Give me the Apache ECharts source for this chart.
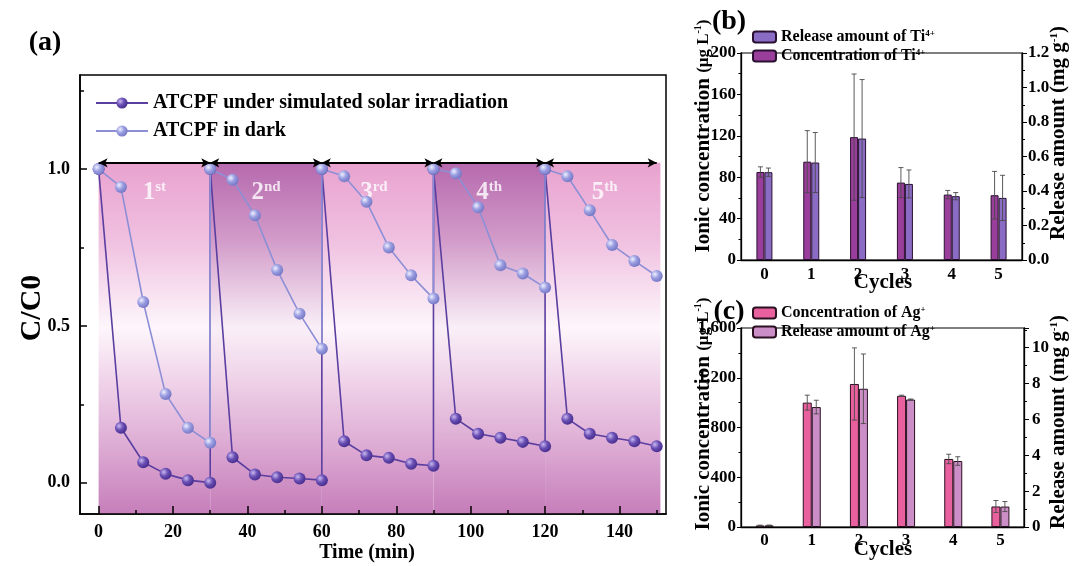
<!DOCTYPE html>
<html><head><meta charset="utf-8">
<script src="https://cdn.jsdelivr.net/npm/echarts@6/dist/echarts.min.js"></script>
<style>html,body{margin:0;padding:0;background:#fff}#c{width:1072px;height:566px}</style>
</head><body><div id="c"></div>
<script>
const FONT = "'Times New Roman','Liberation Serif',serif";
// ---------- Panel (a) data ----------
const timeMin = [0,6,12,18,24,30, 30,36,42,48,54,60, 60,66,72,78,84,90, 90,96,102,108,114,120, 120,126,132,138,144,150];
const solarCC0 = [1.0,0.175,0.065,0.028,0.008,0.0, 1.0,0.081,0.026,0.017,0.013,0.008, 1.0,0.132,0.087,0.079,0.060,0.054, 1.0,0.204,0.156,0.143,0.130,0.116, 1.0,0.204,0.156,0.143,0.132,0.116];
const darkCC0 = [1.0,0.943,0.576,0.283,0.175,0.127, 1.0,0.966,0.853,0.678,0.539,0.427, 1.0,0.977,0.896,0.750,0.661,0.587, 1.0,0.987,0.878,0.693,0.667,0.622, 1.0,0.977,0.869,0.758,0.707,0.659];
const cycleBounds = [0,30,60,90,120,151];
const arrowBounds = [0,30,60,90,120,150];
const cycleLabelX = [15,45,74,105,136];
const cycleNum = ['1','2','3','4','5'];
const cycleSup = ['st','nd','rd','th','th'];
const xMajorA = [0,20,40,60,80,100,120,140];
const xMinorA = [10,30,50,70,90,110,130,150];
const yMajorA = [0,0.5,1.0];
const yMinorA = [0.25,0.75,1.25];
// ---------- Panel (b) data ----------
const cycles = ['0','1','2','3','4','5'];
const tiConc = [85,95,118.7,74.8,63.2,62.6];
const tiConcErr = [5,30,61,14.5,4,23];
const tiRelease = [0.509,0.565,0.704,0.441,0.370,0.360];
const tiReleaseErr = [0.024,0.174,0.342,0.081,0.021,0.131];
// ---------- Panel (c) data ----------
const agConc = [12,1000,1150,1055,547,165];
const agConcErr = [3,60,290,5,38,48];
const agRelease = [0.09,6.69,7.71,7.11,3.68,1.14];
const agReleaseErr = [0.02,0.38,1.94,0.03,0.24,0.28];

const NAME_SOLAR = 'ATCPF under simulated solar irradiation';
const NAME_DARK = 'ATCPF in dark';

function grad(stops){return {type:'linear',x:0,y:0,x2:0,y2:1,colorStops:stops.map(s=>({offset:s[0],color:s[1]}))};}
const gradLight = grad([[0,'#e8a2cf'],[0.22,'#f0c0e0'],[0.47,'#fdf6fb'],[0.6,'#f2d8ec'],[0.8,'#deadd5'],[1,'#c67eba']]);
const gradDark = grad([[0,'#b66aae'],[0.22,'#d29bc9'],[0.47,'#f9eff7'],[0.6,'#f0d6ea'],[0.8,'#dcaad3'],[1,'#c47cb8']]);

function sphere(c0,c1,c2){return {type:'radial',x:0.35,y:0.35,r:0.75,colorStops:[{offset:0,color:c0},{offset:0.45,color:c1},{offset:1,color:c2}]};}

const areas = [];
for(let i=0;i<5;i++){
  areas.push([{xAxis:cycleBounds[i],yAxis:-0.1,itemStyle:{color:i%2?gradDark:gradLight,opacity:1}},{xAxis:cycleBounds[i+1],yAxis:1.02}]);
}
const arrows = [];
for(let i=0;i<5;i++){arrows.push([{coord:[arrowBounds[i],1.02]},{coord:[arrowBounds[i+1],1.02]}]);}

function errorBars(name, xi, yi, vals, errs, side, barW){
  return {type:'custom', name, xAxisIndex:xi, yAxisIndex:yi, z:5, silent:true,
    data: vals.map((v,i)=>[i, v-errs[i], v+errs[i]]),
    encode:{x:0,y:[1,2]},
    renderItem:(params, api)=>{
      const lo = api.coord([api.value(0), api.value(1)]);
      const hi = api.coord([api.value(0), api.value(2)]);
      const x = lo[0] + side*barW/2;
      const cap = 2.5;
      const st = {stroke:'#4a4a4a', lineWidth:0.9};
      return {type:'group', children:[
        {type:'line', shape:{x1:x,y1:lo[1],x2:x,y2:hi[1]}, style:st},
        {type:'line', shape:{x1:x-cap,y1:hi[1],x2:x+cap,y2:hi[1]}, style:st},
        {type:'line', shape:{x1:x-cap,y1:lo[1],x2:x+cap,y2:lo[1]}, style:st}]};
    }};
}

const tickLbl = {fontFamily:FONT,fontWeight:'bold',fontSize:17,color:'#000'};
const axLine = {show:true,onZero:false,lineStyle:{color:'#000',width:1.3}};
const axLineA = {show:true,onZero:false,lineStyle:{color:'#000',width:1.6}};

const option = {
  animation:false,
  textStyle:{fontFamily:FONT},
  grid:[
    {left:80,top:75,width:586,height:439,show:true,borderColor:'#000',borderWidth:1.5,backgroundColor:'transparent'},
    {left:741,top:53,width:281,height:207,show:true,borderColor:'#000',borderWidth:1.2,backgroundColor:'transparent'},
    {left:741,top:328,width:283,height:199,show:true,borderColor:'#000',borderWidth:1.2,backgroundColor:'transparent'}
  ],
  xAxis:[
    {type:'value',gridIndex:0,z:10,min:-5,max:152.5,axisLine:axLineA,splitLine:{show:false},
      axisTick:{show:true,inside:true,length:8,customValues:xMajorA,lineStyle:{color:'#000',width:1.5}},
      axisLabel:{...tickLbl,fontSize:18,margin:9,customValues:xMajorA}},
    {type:'value',gridIndex:0,z:10,min:-5,max:152.5,position:'bottom',axisLine:{show:false,onZero:false},splitLine:{show:false},
      axisTick:{show:true,inside:true,length:4,customValues:xMinorA,lineStyle:{color:'#000',width:1.5}},
      axisLabel:{show:false}},
    {type:'category',gridIndex:1,data:cycles,axisLine:axLine,axisTick:{show:false},axisLabel:{...tickLbl,margin:6}},
    {type:'category',gridIndex:2,data:cycles,axisLine:axLine,axisTick:{show:false},axisLabel:{...tickLbl,margin:5}}
  ],
  yAxis:[
    {type:'value',gridIndex:0,z:10,min:-0.1,max:1.3,axisLine:axLineA,splitLine:{show:false},
      axisTick:{show:true,inside:true,length:7,customValues:yMajorA,lineStyle:{color:'#000',width:1.5}},
      axisLabel:{...tickLbl,fontSize:18,margin:10,customValues:yMajorA,formatter:v=>v.toFixed(1)}},
    {type:'value',gridIndex:0,z:10,min:-0.1,max:1.3,position:'left',axisLine:{show:false,onZero:false},splitLine:{show:false},
      axisTick:{show:true,inside:true,length:4,customValues:yMinorA,lineStyle:{color:'#000',width:1.5}},
      axisLabel:{show:false}},
    {type:'value',gridIndex:1,min:0,max:200,interval:40,position:'left',axisLine:axLine,splitLine:{show:false},
      axisTick:{show:true,length:4,lineStyle:{color:'#000'}},minorTick:{show:true,splitNumber:2,length:2.5,lineStyle:{color:'#000'}},
      axisLabel:{...tickLbl,margin:5}},
    {type:'value',gridIndex:1,min:0,max:1.2,interval:0.2,position:'right',axisLine:axLine,splitLine:{show:false},
      axisTick:{show:true,length:5,lineStyle:{color:'#000'}},minorTick:{show:true,splitNumber:2,length:3,lineStyle:{color:'#000'}},
      axisLabel:{...tickLbl,margin:6,formatter:v=>v.toFixed(1)}},
    {type:'value',gridIndex:2,min:0,max:1600,interval:400,position:'left',axisLine:axLine,splitLine:{show:false},
      axisTick:{show:true,length:4,lineStyle:{color:'#000'}},minorTick:{show:true,splitNumber:2,length:2.5,lineStyle:{color:'#000'}},
      axisLabel:{...tickLbl,margin:5}},
    {type:'value',gridIndex:2,min:0,max:11.1,interval:2,position:'right',axisLine:axLine,splitLine:{show:false},
      axisTick:{show:true,length:5,lineStyle:{color:'#000'}},minorTick:{show:true,splitNumber:2,length:3,lineStyle:{color:'#000'}},
      axisLabel:{...tickLbl,margin:8,showMaxLabel:false}}
  ],
  legend:[
    {data:[NAME_SOLAR,NAME_DARK],orient:'vertical',left:90,top:88,itemWidth:52,itemHeight:14,itemGap:8,
      textStyle:{fontFamily:FONT,fontWeight:'bold',fontSize:20,color:'#000'},selectedMode:false},
    {data:['Release amount of Ti4+','Concentration of Ti4+'],orient:'vertical',left:747,top:24,itemWidth:23,itemHeight:11,itemGap:3,
      selectedMode:false,
      formatter:n=>'{m|'+n.replace('4+','')+'}{s|4+}',
      textStyle:{rich:{m:{fontFamily:FONT,fontWeight:'bold',fontSize:16,color:'#000'},s:{fontFamily:FONT,fontWeight:'bold',fontSize:9,color:'#000',verticalAlign:'top'}}}},
    {data:['Concentration of Ag+','Release amount of Ag+'],orient:'vertical',left:747,top:300,itemWidth:23,itemHeight:11,itemGap:3,
      selectedMode:false,
      formatter:n=>'{m|'+n.replace('+','')+'}{s|+}',
      textStyle:{rich:{m:{fontFamily:FONT,fontWeight:'bold',fontSize:16,color:'#000'},s:{fontFamily:FONT,fontWeight:'bold',fontSize:9,color:'#000',verticalAlign:'top'}}}}
  ],
  series:[
    {type:'line',name:'bg',xAxisIndex:0,yAxisIndex:0,data:[],z:1,silent:true,markArea:{silent:true,data:areas}},
    {type:'line',name:'arrows',xAxisIndex:0,yAxisIndex:0,data:[],z:2,silent:true,
      markLine:{silent:true,symbol:['arrow','arrow'],symbolSize:[7,9],label:{show:false},lineStyle:{color:'#000',width:2,type:'solid'},data:arrows}},
    {type:'scatter',name:'cyc',xAxisIndex:0,yAxisIndex:0,z:3,silent:true,symbolSize:0,
      data:cycleLabelX.map((x,i)=>[x,0.925]),
      label:{show:true,position:'inside',formatter:p=>'{n|'+cycleNum[p.dataIndex]+'}{s|'+cycleSup[p.dataIndex]+'}',
        rich:{n:{fontFamily:FONT,fontWeight:'bold',fontSize:25,color:'#fff',lineHeight:26},s:{fontFamily:FONT,fontWeight:'bold',fontSize:15,color:'#fff',verticalAlign:'top'}}}},
    {type:'line',name:NAME_SOLAR,xAxisIndex:0,yAxisIndex:0,z:4,data:timeMin.map((t,i)=>[t,solarCC0[i]]),
      symbol:'circle',symbolSize:12,lineStyle:{color:'#5a3ea0',width:1.6},
      itemStyle:{color:sphere('#c9b8f0','#6a4fb4','#3f2686')}},
    {type:'line',name:NAME_DARK,xAxisIndex:0,yAxisIndex:0,z:4,data:timeMin.map((t,i)=>[t,darkCC0[i]]),
      symbol:'circle',symbolSize:12,lineStyle:{color:'#8d8fd6',width:1.6},
      itemStyle:{color:sphere('#eef0ff','#9a9de0','#6e70c0')}},
    // (b)
    {type:'bar',name:'Concentration of Ti4+',xAxisIndex:2,yAxisIndex:2,data:tiConc,barWidth:8,barGap:'0%',
      itemStyle:{color:'#9a3e9c',borderColor:'#2a1030',borderWidth:1}},
    {type:'bar',name:'Release amount of Ti4+',xAxisIndex:2,yAxisIndex:3,data:tiRelease,barWidth:8,barGap:'0%',
      itemStyle:{color:'#8a6cc4',borderColor:'#2a1030',borderWidth:1}},
    errorBars('e1',2,2,tiConc,tiConcErr,-1,8),
    errorBars('e2',2,3,tiRelease,tiReleaseErr,1,8),
    // (c)
    {type:'bar',name:'Concentration of Ag+',xAxisIndex:3,yAxisIndex:4,data:agConc,barWidth:9,barGap:'0%',
      itemStyle:{color:'#e8609e',borderColor:'#2a1020',borderWidth:1}},
    {type:'bar',name:'Release amount of Ag+',xAxisIndex:3,yAxisIndex:5,data:agRelease,barWidth:9,barGap:'0%',
      itemStyle:{color:'#cc8ec6',borderColor:'#2a1020',borderWidth:1}},
    errorBars('e3',3,4,agConc,agConcErr,-1,9),
    errorBars('e4',3,5,agRelease,agReleaseErr,1,9)
  ],
  graphic:[
    {type:'text',x:45,y:43,style:{text:'(a)',font:'bold 28px '+FONT,fill:'#000',align:'center',verticalAlign:'middle'}},
    {type:'text',x:729,y:22,style:{text:'(b)',font:'bold 28px '+FONT,fill:'#000',align:'center',verticalAlign:'middle'}},
    {type:'text',x:729,y:312,style:{text:'(c)',font:'bold 28px '+FONT,fill:'#000',align:'center',verticalAlign:'middle'}},
    {type:'text',x:32,y:308,rotation:Math.PI/2,style:{text:'C/C0',font:'bold 30px '+FONT,fill:'#000',align:'center',verticalAlign:'middle'}},
    {type:'text',x:367,y:553,style:{text:'Time (min)',font:'bold 20px '+FONT,fill:'#000',align:'center',verticalAlign:'middle'}},
    {type:'text',x:883,y:283,style:{text:'Cycles',font:'bold 21px '+FONT,fill:'#000',align:'center',verticalAlign:'middle'}},
    {type:'text',x:883,y:550,style:{text:'Cycles',font:'bold 21px '+FONT,fill:'#000',align:'center',verticalAlign:'middle'}},
    {type:'text',x:704,y:136,rotation:Math.PI/2,style:{text:'{m|Ionic concentration }{u|(μg L}{s|-1}{u|)}',align:'center',verticalAlign:'middle',
      rich:{m:{font:'bold 21px '+FONT,fill:'#000'},u:{font:'bold 17px '+FONT,fill:'#000'},s:{font:'bold 10px '+FONT,fill:'#000',verticalAlign:'top'}}}},
    {type:'text',x:1059,y:133,rotation:Math.PI/2,style:{text:'{m|Release amount (mg g}{s|-1}{m|)}',align:'center',verticalAlign:'middle',
      rich:{m:{font:'bold 21px '+FONT,fill:'#000'},s:{font:'bold 11px '+FONT,fill:'#000',verticalAlign:'top'}}}},
    {type:'text',x:704,y:414,rotation:Math.PI/2,style:{text:'{m|Ionic concentration }{u|(μg L}{s|-1}{u|)}',align:'center',verticalAlign:'middle',
      rich:{m:{font:'bold 21px '+FONT,fill:'#000'},u:{font:'bold 17px '+FONT,fill:'#000'},s:{font:'bold 10px '+FONT,fill:'#000',verticalAlign:'top'}}}},
    {type:'text',x:1059,y:422,rotation:Math.PI/2,style:{text:'{m|Release amount (mg g}{s|-1}{m|)}',align:'center',verticalAlign:'middle',
      rich:{m:{font:'bold 21px '+FONT,fill:'#000'},s:{font:'bold 11px '+FONT,fill:'#000',verticalAlign:'top'}}}}
  ]
};
const chart = echarts.init(document.getElementById('c'),null,{renderer:'canvas'});
chart.setOption(option);
</script></body></html>
